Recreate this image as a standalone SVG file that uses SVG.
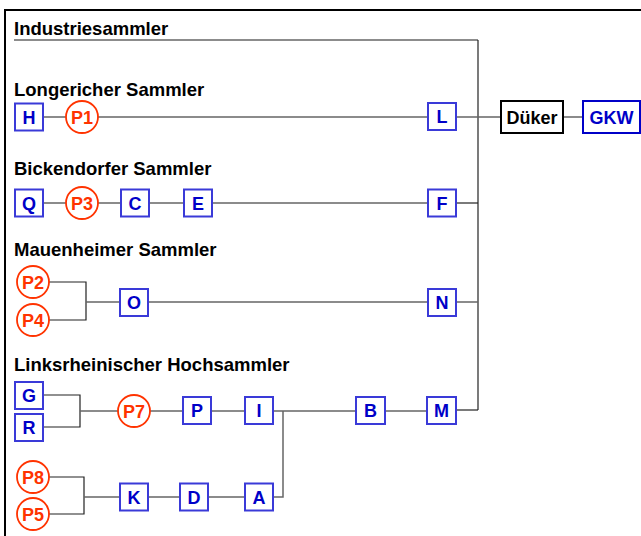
<svg xmlns="http://www.w3.org/2000/svg" width="641" height="536" viewBox="0 0 641 536">
<style>
.lbl{font-family:"Liberation Sans",Arial,sans-serif;font-weight:bold;font-size:18.5px;fill:#000}
.bx rect{fill:#fff;stroke:#3a3ad8;stroke-width:2}
.bx text{font-family:"Liberation Sans",Arial,sans-serif;font-weight:bold;font-size:18px;fill:#0000c8;text-anchor:middle}
.pc circle{fill:#fff;stroke:#ff3300;stroke-width:1.8}
.pc text{font-family:"Liberation Sans",Arial,sans-serif;font-weight:bold;font-size:18px;fill:#ff3300;text-anchor:middle}
.bk rect{fill:#fff;stroke:#000;stroke-width:2}
.bk text{font-family:"Liberation Sans",Arial,sans-serif;font-weight:bold;font-size:18px;fill:#000;text-anchor:middle}
.gk rect{fill:#fff;stroke:#0000c8;stroke-width:2}
.gk text{font-family:"Liberation Sans",Arial,sans-serif;font-weight:bold;font-size:18px;fill:#0000c8;text-anchor:middle}
.c{stroke:#666;stroke-width:1.5;fill:none}
.k{stroke:#222;stroke-width:1.2;fill:none}
</style>
<rect width="641" height="536" fill="#fff"/>
<g id="frame"><path d="M5,536 V10 H641" stroke="#000" stroke-width="2" fill="none"/></g>
<g id="labels">
<text class="lbl" x="14" y="34.5">Industriesammler</text>
<text class="lbl" x="14" y="96">Longericher Sammler</text>
<text class="lbl" x="14" y="175">Bickendorfer Sammler</text>
<text class="lbl" x="14" y="256">Mauenheimer Sammler</text>
<text class="lbl" x="14" y="371">Linksrheinischer Hochsammler</text>
</g>
<g id="connectors">
<path class="c" d="M14,40 H478"/>
<path class="k" d="M478,40 V410"/>
<path class="c" d="M43,117 H66 M98,117 H428 M456,117 H501 M563,117 H583"/>
<path class="c" d="M43,203 H66 M98,203 H121 M149,203 H184 M212,203 H428"/>
<path class="k" d="M456,203 H478"/>
<path class="k" d="M49,282 H86 V320 H49"/>
<path class="c" d="M86,302 H120 M148,302 H428 M456,302 H478"/>
<path class="k" d="M43,395 H80 V427 H43"/>
<path class="c" d="M80,411 H118 M150,411 H183 M211,411 H245 M273,411 H356 M385,411 H427"/>
<path class="k" d="M456,410 H478"/>
<path class="k" d="M49,477 H84 V514 H49"/>
<path class="c" d="M84,497 H120 M148,497 H180 M208,497 H245"/>
<path class="c" d="M273,497 H283 V411"/>
</g>
<g id="H" class="bx"><rect x="15" y="103.5" width="28" height="27"/><text x="29" y="123.5">H</text></g>
<g id="P1" class="pc"><circle cx="82" cy="117" r="16"/><text x="82" y="123.5">P1</text></g>
<g id="L" class="bx"><rect x="428" y="103" width="28" height="27"/><text x="442" y="123">L</text></g>
<g id="Dueker" class="bk"><rect x="501" y="101" width="62" height="32"/><text x="532" y="123.5">Düker</text></g>
<g id="GKW" class="gk"><rect x="583" y="101" width="57" height="32"/><text x="611.5" y="123.5">GKW</text></g>
<g id="Q" class="bx"><rect x="15" y="189.5" width="28" height="27"/><text x="29" y="209.5">Q</text></g>
<g id="P3" class="pc"><circle cx="82" cy="203" r="16"/><text x="82" y="209.5">P3</text></g>
<g id="C" class="bx"><rect x="121" y="189.5" width="28" height="27"/><text x="135" y="209.5">C</text></g>
<g id="E" class="bx"><rect x="184" y="189.5" width="28" height="27"/><text x="198" y="209.5">E</text></g>
<g id="F" class="bx"><rect x="428" y="189.5" width="28" height="27"/><text x="442" y="209.5">F</text></g>
<g id="P2" class="pc"><circle cx="33" cy="282" r="16"/><text x="33" y="288.5">P2</text></g>
<g id="P4" class="pc"><circle cx="33" cy="320" r="16"/><text x="33" y="326.5">P4</text></g>
<g id="O" class="bx"><rect x="120" y="289" width="28" height="27"/><text x="134" y="309">O</text></g>
<g id="N" class="bx"><rect x="428" y="289" width="28" height="27"/><text x="442" y="309">N</text></g>
<g id="G" class="bx"><rect x="15" y="382" width="28" height="27"/><text x="29" y="402">G</text></g>
<g id="R" class="bx"><rect x="15" y="414" width="28" height="27"/><text x="29" y="434">R</text></g>
<g id="P7" class="pc"><circle cx="134" cy="411" r="16"/><text x="134" y="417.5">P7</text></g>
<g id="P" class="bx"><rect x="183" y="397" width="28" height="27"/><text x="197" y="417">P</text></g>
<g id="I" class="bx"><rect x="245" y="397" width="28" height="27"/><text x="259" y="417">I</text></g>
<g id="B" class="bx"><rect x="356" y="397" width="29" height="27"/><text x="370.5" y="417">B</text></g>
<g id="M" class="bx"><rect x="427" y="397" width="29" height="27"/><text x="441.5" y="417">M</text></g>
<g id="P8" class="pc"><circle cx="33" cy="477" r="16"/><text x="33" y="483.5">P8</text></g>
<g id="P5" class="pc"><circle cx="33" cy="514" r="16"/><text x="33" y="520.5">P5</text></g>
<g id="K" class="bx"><rect x="120" y="483.5" width="28" height="27"/><text x="134" y="503.5">K</text></g>
<g id="D" class="bx"><rect x="180" y="483.5" width="28" height="27"/><text x="194" y="503.5">D</text></g>
<g id="A" class="bx"><rect x="245" y="483.5" width="28" height="27"/><text x="259" y="503.5">A</text></g>
</svg>
